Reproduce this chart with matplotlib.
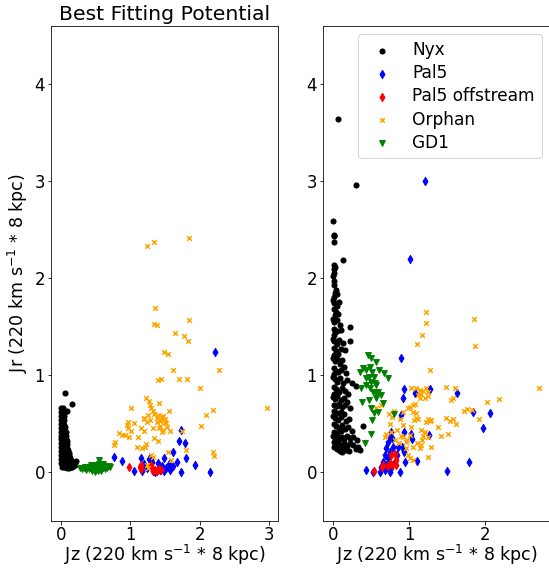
import matplotlib
matplotlib.use("Agg")
import matplotlib.pyplot as plt

plt.rcParams['font.size'] = 17

# ---------------- Left panel: best fitting potential ----------------
L_nyx_x = [0.058, 0.163,
           0.005, 0.02, 0.03, 0.005, 0.03, 0.06, 0.08, 0.005, 0.03, 0.05,
           0.005, 0.03, 0.05, 0.005, 0.03, 0.05, 0.005, 0.03, 0.05, 0.06,
           0.005, 0.03, 0.05, 0.07, 0.005, 0.03, 0.05, 0.07,
           0.005, 0.03, 0.05, 0.07, 0.08, 0.005, 0.03, 0.05, 0.07, 0.09,
           0.005, 0.03, 0.05, 0.07, 0.09, 0.10,
           0.005, 0.03, 0.05, 0.07, 0.09, 0.11, 0.12,
           0.005, 0.03, 0.05, 0.07, 0.09, 0.11, 0.13,
           0.005, 0.03, 0.05, 0.07, 0.09, 0.11, 0.13, 0.15,
           0.005, 0.03, 0.05, 0.07, 0.09, 0.11, 0.13, 0.15, 0.17, 0.19, 0.21,
           0.02, 0.04, 0.06, 0.08, 0.10, 0.12, 0.14, 0.16, 0.18, 0.20]
L_nyx_y = [0.82, 0.71,
           0.66, 0.64, 0.66, 0.62, 0.61, 0.62, 0.63, 0.58, 0.57, 0.58,
           0.54, 0.53, 0.54, 0.50, 0.50, 0.49, 0.46, 0.46, 0.45, 0.47,
           0.42, 0.42, 0.41, 0.42, 0.38, 0.38, 0.37, 0.38,
           0.34, 0.34, 0.33, 0.34, 0.32, 0.30, 0.30, 0.29, 0.30, 0.29,
           0.26, 0.26, 0.25, 0.26, 0.25, 0.23,
           0.22, 0.22, 0.21, 0.22, 0.21, 0.20, 0.18,
           0.18, 0.18, 0.17, 0.18, 0.17, 0.16, 0.15,
           0.14, 0.14, 0.13, 0.14, 0.13, 0.12, 0.12, 0.13,
           0.10, 0.10, 0.09, 0.10, 0.09, 0.08, 0.09, 0.08, 0.10, 0.11, 0.12,
           0.06, 0.06, 0.06, 0.05, 0.06, 0.05, 0.06, 0.06, 0.07, 0.08]

L_pal5_x = [2.219, 1.734, 1.705, 1.787, 1.614, 1.796, 1.936, 2.152, 1.724, 0.764,
            0.884, 1.057, 1.158, 1.268, 1.292, 1.484, 1.551, 1.667, 1.619, 1.513,
            1.431, 1.330, 1.234, 1.162, 1.282, 1.354, 1.451, 1.484, 1.570, 1.402,
            1.196, 1.311]
L_pal5_y = [1.237, 0.433, 0.320, 0.299, 0.213, 0.151, 0.076, 0.007, 0.007, 0.155,
            0.120, 0.017, 0.148, 0.137, 0.144, 0.148, 0.086, 0.113, 0.062, 0.045,
            0.027, 0.010, 0.045, 0.017, 0.062, 0.003, 0.065, 0.017, 0.027, 0.096,
            0.086, 0.107]

L_off_x = [0.980, 1.138, 1.158, 1.148, 1.292, 1.306, 1.354, 1.388, 1.417, 1.441, 1.330]
L_off_y = [0.055, 0.058, 0.038, 0.079, 0.079, 0.045, 0.027, 0.017, 0.038, 0.024, 0.010]

L_orph_x = [1.243, 1.339, 1.848, 1.359, 1.339, 1.383, 1.848, 1.642, 1.776, 1.834,
            1.488, 1.546, 1.613, 2.271, 1.397, 1.440, 1.704, 1.820, 2.002, 2.972,
            2.184, 2.093, 2.011, 2.184, 2.199, 1.795, 1.225, 1.263, 1.412, 1.009,
            1.302, 1.321, 1.340, 1.556, 1.465, 0.970, 1.052, 1.196, 1.282, 1.388,
            1.427, 1.503, 1.513, 0.956, 0.965, 1.004, 1.201, 1.330, 1.475, 1.455,
            1.571, 0.836, 0.884, 0.922, 0.985, 0.783, 0.768, 1.114, 1.335, 1.393,
            1.225, 1.210, 1.090, 1.162, 1.330, 1.542, 1.580, 1.297, 1.234, 1.258,
            1.748, 1.282, 1.378, 1.402, 1.427, 1.249, 1.417, 1.148, 1.523, 1.45,
            1.47, 1.50, 1.43, 1.19, 1.24]
L_orph_y = [2.333, 2.374, 2.411, 1.690, 1.525, 1.518, 1.570, 1.436, 1.406, 1.350,
            1.241, 1.222, 1.054, 1.054, 0.953, 0.964, 0.961, 0.961, 0.867, 0.669,
            0.639, 0.594, 0.482, 0.213, 0.168, 0.232, 0.763, 0.739, 0.718, 0.660,
            0.663, 0.636, 0.601, 0.632, 0.577, 0.522, 0.505, 0.560, 0.536, 0.519,
            0.526, 0.546, 0.509, 0.485, 0.457, 0.423, 0.423, 0.460, 0.433, 0.412,
            0.430, 0.409, 0.388, 0.381, 0.361, 0.313, 0.278, 0.361, 0.354, 0.320,
            0.292, 0.258, 0.261, 0.251, 0.158, 0.206, 0.131, 0.179, 0.079, 0.045,
            0.423, 0.691, 0.560, 0.588, 0.474, 0.595, 0.457, 0.457, 0.471, 0.57,
            0.54, 0.52, 0.54, 0.55, 0.52]

L_gd1_x = [0.27, 0.30, 0.33, 0.36, 0.38, 0.40, 0.42, 0.44, 0.45, 0.47, 0.48, 0.50,
           0.51, 0.52, 0.53, 0.54, 0.55, 0.55, 0.56, 0.57, 0.58, 0.59, 0.60, 0.62,
           0.63, 0.65, 0.67, 0.69, 0.71, 0.35, 0.43, 0.49, 0.61, 0.46]
L_gd1_y = [0.05, 0.04, 0.05, 0.03, 0.06, 0.04, 0.05, 0.02, 0.07, 0.04, 0.06, 0.03,
           0.08, 0.05, 0.01, 0.07, 0.13, 0.09, 0.04, 0.06, 0.02, 0.08, 0.05, 0.07,
           0.04, 0.06, 0.05, 0.07, 0.06, 0.06, 0.08, 0.00, 0.09, 0.06]

# ---------------- Right panel ----------------
R_nyx_x = [0.07, 0.306, 0.00, 0.01, 0.02, 0.01, 0.13,
           0.01, 0.02, 0.01, 0.03, 0.00,
           0.01, 0.02, 0.04, 0.06, 0.01, 0.03,
           0.00, 0.02, 0.05, 0.08, 0.01, 0.04, 0.03, 0.07,
           0.00, 0.02, 0.05, 0.09, 0.01, 0.03, 0.06, 0.11, 0.22, 0.01,
           0.00, 0.02, 0.05, 0.08, 0.13, 0.01, 0.04, 0.07, 0.10, 0.22, 0.16, 0.02,
           0.00, 0.03, 0.06, 0.09, 0.12, 0.15, 0.01, 0.04, 0.07, 0.11, 0.17, 0.02,
           0.00, 0.03, 0.06, 0.09, 0.13, 0.18, 0.25, 0.30, 0.01, 0.04, 0.08, 0.12, 0.16, 0.20, 0.02,
           0.00, 0.03, 0.06, 0.10, 0.14, 0.19, 0.01, 0.05, 0.08, 0.12, 0.16, 0.22, 0.02, 0.06, 0.10, 0.15,
           0.00, 0.03, 0.07, 0.11, 0.17, 0.21, 0.01, 0.04, 0.08, 0.12, 0.16, 0.20, 0.25, 0.40, 0.02, 0.06, 0.10,
           0.00, 0.03, 0.06, 0.09, 0.12, 0.15, 0.19, 0.23, 0.27, 0.31, 0.01, 0.04, 0.07, 0.10, 0.14,
           0.18, 0.22, 0.26, 0.33, 0.05, 0.09, 0.13, 0.17, 0.21, 0.35, 0.30, 0.02, 0.12]
R_nyx_y = [3.64, 2.96, 2.59, 2.45, 2.44, 2.37, 2.19,
           2.14, 2.10, 2.06, 2.12, 2.02,
           1.93, 1.97, 1.88, 1.84, 1.81, 1.85,
           1.78, 1.75, 1.72, 1.76, 1.68, 1.65, 1.62, 1.63,
           1.58, 1.55, 1.57, 1.52, 1.48, 1.45, 1.46, 1.47, 1.50, 1.42,
           1.38, 1.35, 1.32, 1.36, 1.33, 1.28, 1.25, 1.22, 1.27, 1.35, 1.26, 1.21,
           1.18, 1.15, 1.17, 1.12, 1.16, 1.09, 1.08, 1.05, 1.03, 1.06, 1.02, 1.01,
           0.98, 0.96, 0.93, 0.97, 0.92, 0.95, 0.92, 0.89, 0.88, 0.86, 0.83, 0.87, 0.84, 0.81, 0.81,
           0.78, 0.76, 0.79, 0.75, 0.77, 0.73, 0.70, 0.68, 0.71, 0.67, 0.69, 0.66, 0.63, 0.61, 0.62, 0.60,
           0.58, 0.56, 0.54, 0.57, 0.53, 0.55, 0.50, 0.48, 0.46, 0.49, 0.45, 0.47, 0.43, 0.48, 0.42, 0.41, 0.43,
           0.38, 0.36, 0.39, 0.35, 0.37, 0.34, 0.38, 0.35, 0.37, 0.33, 0.31, 0.29, 0.32, 0.28, 0.30,
           0.27, 0.30, 0.28, 0.26, 0.24, 0.22, 0.25, 0.23, 0.22, 0.23, 0.24, 0.26, 0.21]

R_pal5_x = [1.203, 1.011, 0.893, 0.932, 1.072, 1.269, 1.632, 0.915, 1.842, 2.061,
            1.965, 0.893, 0.937, 1.029, 1.037, 1.256, 0.757, 0.780, 0.853, 0.911,
            0.928, 0.941, 1.103, 1.501, 1.785, 0.875, 0.438, 0.525,
            0.722, 0.752, 0.700, 0.744, 0.678, 0.722, 0.656, 0.700, 0.634, 0.678,
            0.766, 0.809, 0.621, 0.744, 0.840, 0.787]
R_pal5_y = [3.003, 2.199, 1.175, 0.859, 0.821, 0.856, 0.821, 0.763, 0.625, 0.608,
            0.457, 0.591, 0.420, 0.392, 0.343, 0.385, 0.412, 0.350, 0.265, 0.265,
            0.206, 0.103, 0.117, 0.014, 0.103, 0.007, 0.030, 0.007,
            0.316, 0.368, 0.247, 0.213, 0.179, 0.144, 0.110, 0.076, 0.058, 0.024,
            0.041, 0.110, 0.007, 0.007, 0.179, 0.265]

R_off_x = [0.538, 0.647, 0.656, 0.744, 0.766, 0.809, 0.822, 0.779, 0.722, 0.831]
R_off_y = [0.014, 0.058, 0.082, 0.093, 0.179, 0.186, 0.127, 0.076, 0.069, 0.076]

R_orph_x = [1.225, 1.220, 1.172, 1.102, 1.855, 1.864, 1.278, 2.704, 2.187, 2.021,
            1.483, 1.601, 1.029, 1.085, 1.138, 1.181, 1.217, 1.247, 1.160, 1.116,
            1.147, 1.203, 1.247, 1.575, 1.554, 1.719, 1.764, 1.829, 1.912, 1.072,
            1.050, 1.006, 1.085, 1.116, 1.247, 1.269, 1.226, 1.291, 1.481, 1.534,
            1.577, 1.621, 1.378, 1.422, 1.509, 1.160, 1.203, 1.181, 1.173, 1.247,
            1.160, 1.291, 1.050, 0.963, 1.006, 0.918, 0.577, 0.634, 0.569, 0.682,
            0.761, 0.840, 0.971, 0.919, 1.028, 1.063, 1.094, 0.919, 0.984, 1.050,
            0.954, 0.984, 1.015, 1.137, 1.242, 0.814, 0.866, 0.80, 0.78, 0.73,
            0.88, 0.75, 0.70, 0.90, 1.10, 1.05]
R_orph_y = [1.649, 1.536, 1.416, 1.320, 1.584, 1.302, 1.055, 0.873, 0.756, 0.722,
            0.880, 0.870, 0.866, 0.873, 0.848, 0.838, 0.866, 0.832, 0.804, 0.797,
            0.770, 0.763, 0.791, 0.763, 0.746, 0.632, 0.653, 0.643, 0.550, 0.701,
            0.626, 0.677, 0.564, 0.550, 0.550, 0.529, 0.515, 0.539, 0.557, 0.529,
            0.550, 0.495, 0.464, 0.378, 0.392, 0.436, 0.419, 0.378, 0.333, 0.368,
            0.281, 0.265, 0.265, 0.316, 0.385, 0.368, 0.797, 0.694, 0.660, 0.361,
            0.412, 0.436, 0.333, 0.488, 0.471, 0.540, 0.608, 0.625, 0.660, 0.694,
            0.247, 0.179, 0.151, 0.254, 0.162, 0.333, 0.299, 0.63, 0.57, 0.60,
            0.55, 0.50, 0.40, 0.38, 0.30, 0.13]

R_gd1_x = [0.459, 0.503, 0.560, 0.350, 0.394, 0.437, 0.481, 0.516, 0.472, 0.538,
           0.604, 0.665, 0.722, 0.372, 0.437, 0.503, 0.569, 0.525, 0.591, 0.634,
           0.385, 0.472, 0.569, 0.656, 0.591, 0.503, 0.538, 0.516, 0.494, 0.416,
           0.796, 0.569, 0.437, 0.481, 0.547]
R_gd1_y = [1.210, 1.175, 1.141, 1.038, 1.072, 1.055, 1.089, 1.038, 0.986, 0.986,
           1.055, 1.021, 0.976, 0.866, 0.900, 0.928, 0.900, 0.832, 0.832, 0.797,
           0.722, 0.746, 0.763, 0.711, 0.625, 0.660, 0.608, 0.540, 0.392, 0.306,
           0.598, 0.814, 0.969, 0.866, 0.918]

series_labels = ['Nyx', 'Pal5', 'Pal5 offstream', 'Orphan', 'GD1']
title = 'Best Fitting Potential'
xlabel = 'Jz (220 km s$^{-1}$ * 8 kpc)'
ylabel = 'Jr (220 km s$^{-1}$ * 8 kpc)'

DPI = 72
fig = plt.figure(figsize=(549 / DPI, 569 / DPI), dpi=DPI)
ax1 = fig.add_axes([51/549, 48/569, 227/549, 495/569])
ax2 = fig.add_axes([323/549, 48/569, 227/549, 495/569])


def draw(ax, nx, ny, px, py, ox, oy, rx, ry, gx, gy):
    ax.scatter(nx, ny, s=26, c='black', marker='o', label=series_labels[0])
    ax.scatter(px, py, s=34, c='blue', marker='d', label=series_labels[1])
    ax.scatter(ox, oy, s=34, c='red', marker='d', label=series_labels[2])
    ax.scatter(rx, ry, s=22, c='orange', marker='x', label=series_labels[3])
    ax.scatter(gx, gy, s=34, c='green', marker='v', label=series_labels[4])
    ax.set_ylim(-0.5, 4.6)
    ax.tick_params(axis='both', labelsize=16.5)
    ax.tick_params(axis='x', pad=1.5)
    ax.tick_params(axis='y', pad=2.5)
    ax.set_xlabel(xlabel, fontsize=17.5, labelpad=-1)


draw(ax1, L_nyx_x, L_nyx_y, L_pal5_x, L_pal5_y, L_off_x, L_off_y,
     L_orph_x, L_orph_y, L_gd1_x, L_gd1_y)
draw(ax2, R_nyx_x, R_nyx_y, R_pal5_x, R_pal5_y, R_off_x, R_off_y,
     R_orph_x, R_orph_y, R_gd1_x, R_gd1_y)

ax1.set_xlim(-0.144, 3.127)
ax2.set_xlim(-0.13, 2.85)
ax1.set_ylabel(ylabel, fontsize=17.5)
ax1.set_title(title)
ax2.legend(loc='upper right', labelspacing=0.3)

fig.savefig('out.png', dpi=DPI)
